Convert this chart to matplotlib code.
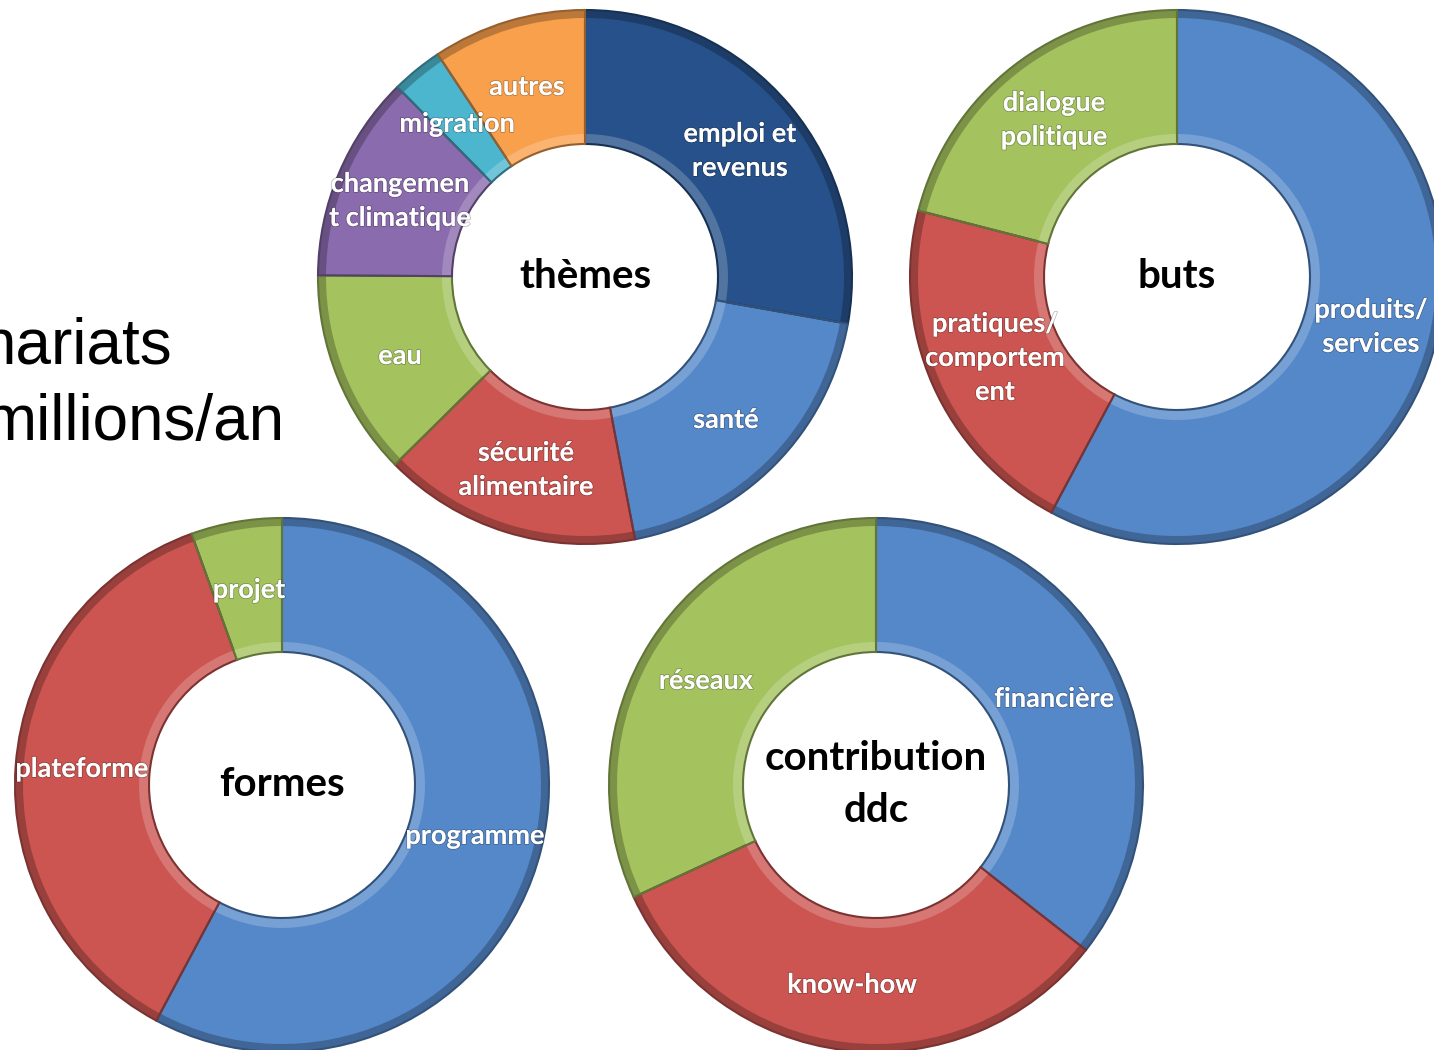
import numpy as np
import matplotlib
matplotlib.use('Agg')
import matplotlib.pyplot as plt
from matplotlib.patches import Wedge
from matplotlib import colors as mcolors
import matplotlib.patheffects as pe

W, H = 1434, 1050

BLUE = '#5588C9'
RED = '#CC5551'
GREEN = '#A4C35F'

# themes
theme_labels = ['emploi et\nrevenus', 'santé', 'sécurité\nalimentaire', 'eau',
                'changemen\nt climatique', 'migration', 'autres']
theme_values = [27.8, 19.2, 15.6, 12.5, 12.5, 3.1, 9.3]
theme_colors = ['#27518A', BLUE, RED, GREEN, '#8A6BAD', '#4DB6CF', '#F9A04C']

# buts
but_labels = ['produits/\nservices', 'pratiques/\ncomportem\nent', 'dialogue\npolitique']
but_values = [57.8, 21.2, 21.0]
but_colors = [BLUE, RED, GREEN]

# formes
forme_labels = ['programme', 'plateforme', 'projet']
forme_values = [57.8, 36.7, 5.5]
forme_colors = [BLUE, RED, GREEN]

# contribution ddc
contrib_labels = ['financière', 'know-how', 'réseaux']
contrib_values = [35.6, 32.5, 31.9]
contrib_colors = [BLUE, RED, GREEN]


def shade(c, f):
    rgb = np.array(mcolors.to_rgb(c))
    if f < 1:
        return tuple(rgb * f)
    return tuple(rgb + (1 - rgb) * (f - 1))


def donut(ax, values, cols, labels, cx, cy, label_pos, title, r=267, w=134):
    cy = H - cy
    wedges, _ = ax.pie(values, colors=cols, startangle=90, counterclock=False,
                       radius=r, center=(cx, cy),
                       wedgeprops=dict(width=w, linewidth=0))
    # fake bevel: dark outer rim, light inner rim, dark edges
    for wd, c in zip(wedges, cols):
        t1, t2 = wd.theta1, wd.theta2
        ax.add_patch(Wedge((cx, cy), r, t1, t2, width=8,
                           color=shade(c, 0.75), lw=0))
        ax.add_patch(Wedge((cx, cy), r - w + 10, t1, t2, width=10,
                           color=shade(c, 1.2), lw=0))
        ax.add_patch(Wedge((cx, cy), r, t1, t2, width=w, fill=False,
                           edgecolor=shade(c, 0.6), lw=1.5))
    shadow = [pe.withStroke(linewidth=1.2, foreground=(0, 0, 0, 0.25))]
    for lab, (lx, ly) in zip(labels, label_pos):
        ax.text(lx, H - ly, lab, ha='center', va='center', color='white',
                fontsize=19.5, fontweight='bold', family='Lato',
                linespacing=1.5, path_effects=shadow)
    ax.text(cx, cy, title, ha='center', va='center', color='black',
            fontsize=29, fontweight='bold', family='Lato', linespacing=1.5)


def main():
    fig = plt.figure(figsize=(W / 100, H / 100), dpi=100)
    ax = fig.add_axes([0, 0, 1, 1])

    donut(ax, theme_values, theme_colors, theme_labels, 585, 277,
          [(740, 151), (726, 420), (526, 470), (400, 356), (400, 201),
           (457, 124), (527, 87)], 'thèmes')
    donut(ax, but_values, but_colors, but_labels, 1177, 277,
          [(1371, 327), (995, 358), (1054, 120)], 'buts')
    donut(ax, forme_values, forme_colors, forme_labels, 282, 785,
          [(475, 836), (82, 769), (249, 590)], 'formes')
    donut(ax, contrib_values, contrib_colors, contrib_labels, 876, 785,
          [(1054, 699), (852, 985), (706, 681)], 'contribution\nddc')

    # title text cut by the left edge (as in the original slide)
    ax.text(172, H - 364, 'nariats', ha='right', va='baseline',
            fontsize=46, family='Liberation Sans', color='black')
    ax.text(285, H - 440, 'millions/an', ha='right', va='baseline',
            fontsize=46, family='Liberation Sans', color='black')

    ax.set_xlim(0, W)
    ax.set_ylim(0, H)
    ax.set_aspect('equal')
    ax.axis('off')
    fig.savefig('out.png', dpi=100, facecolor='white')
    plt.close(fig)


if __name__ == "__main__":
    main()
